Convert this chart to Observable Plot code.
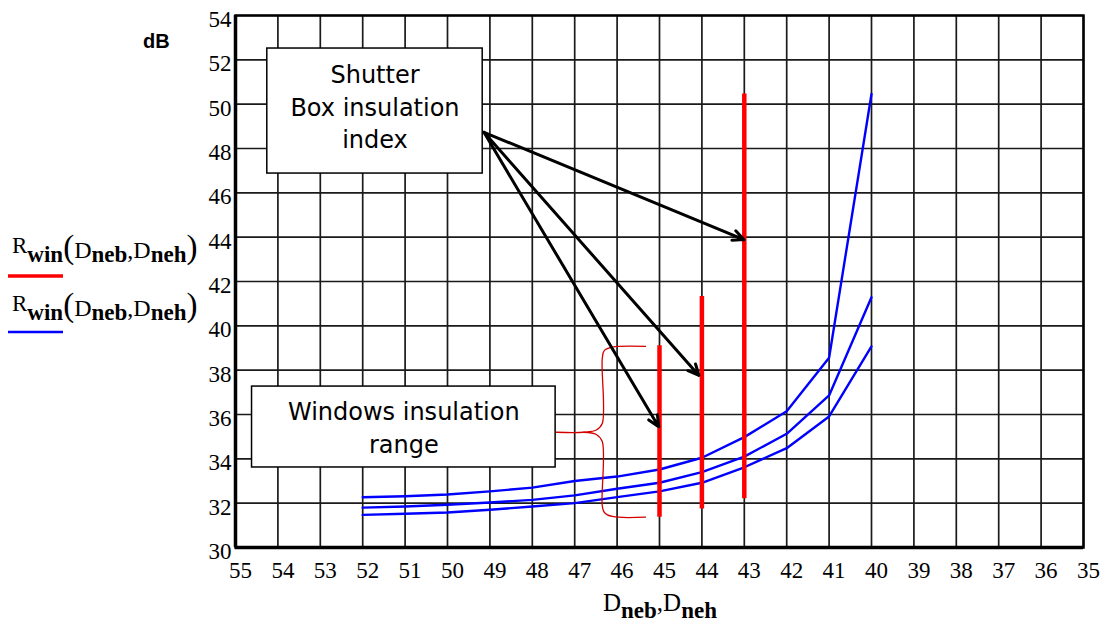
<!DOCTYPE html>
<html><head><meta charset="utf-8">
<script src="https://cdn.jsdelivr.net/npm/d3@7"></script>
<script src="https://cdn.jsdelivr.net/npm/@observablehq/plot@0.6"></script>
<style>
body{margin:0;background:#fff;}
#chart{position:relative;width:1107px;height:625px;}
</style>
</head><body><div id="chart"></div>
<script>
// ---- data ----
const xTicks = [55,54,53,52,51,50,49,48,47,46,45,44,43,42,41,40,39,38,37,36,35];
const yTicks = [30,32,34,36,38,40,42,44,46,48,50,52,54];

const Dneb = [52,51,50,49,48,47,46,45,44,43,42,41,40];
const rUpper  = [32.27,32.31,32.39,32.53,32.70,33.00,33.20,33.52,34.05,34.98,36.15,38.56,50.46];
const rMiddle = [31.80,31.85,31.93,32.03,32.15,32.35,32.65,32.92,33.40,34.10,35.13,36.86,41.29];
const rLower  = [31.47,31.52,31.58,31.70,31.85,32.00,32.27,32.53,32.92,33.62,34.48,35.91,39.07];

const shutterX    = [45,44,43];
const shutterLow  = [31.37,31.74,32.20];
const shutterHigh = [39.10,41.32,50.46];

const arrowFromX = 49.14, arrowFromY = 48.73;
const arrowToX = [43.01,44.07,45.02];
const arrowToY = [43.89,37.76,35.45];

const boxLabels = ["Shutter\nBox insulation\nindex", "Windows insulation\nrange"];
const boxX1 = [54.25,54.61], boxX2 = [49.17,47.45];
const boxY1 = [46.87,33.61], boxY2 = [52.51,37.26];
const boxTextX = [51.71,51.03], boxTextY = [49.95,35.49];

const braceUpperX = [47.43,46.79,46.49,46.35,46.35,46.30,46.11,45.33];
const braceUpperY = [35.20,35.20,35.30,35.59,38.52,38.89,39.04,39.07];
const braceLowerX = [46.79,46.49,46.35,46.35,46.30,46.11,45.33];
const braceLowerY = [35.20,35.10,34.78,31.89,31.58,31.40,31.37];

// ---- tables ----
const curves = [];
[["upper",rUpper],["middle",rMiddle],["lower",rLower]].forEach(([k,arr]) =>
  Dneb.forEach((d,i) => curves.push({series:k, d, r:arr[i]})));
const shutters = shutterX.map((x,i) => ({x, lo:shutterLow[i], hi:shutterHigh[i]}));
const arrows = arrowToX.map((x,i) => ({x1:arrowFromX, y1:arrowFromY, x2:x, y2:arrowToY[i]}));
const boxes = boxLabels.map((label,i) => ({label, x1:boxX1[i], x2:boxX2[i], y1:boxY1[i], y2:boxY2[i], tx:boxTextX[i], ty:boxTextY[i]}));
const brace = [
  ...braceUpperX.map((x,i) => ({part:"u", x, y:braceUpperY[i]})),
  ...braceLowerX.map((x,i) => ({part:"l", x, y:braceLowerY[i]}))
];

const gridStyle = {stroke:"#1a1a1a", strokeOpacity:1, strokeWidth:1.7};

const plot = Plot.plot({
  width:1107, height:625,
  marginLeft:235, marginRight:24, marginTop:15, marginBottom:78,
  style:{fontFamily:"'Liberation Serif', serif", fontSize:"23px", color:"#000", background:"#fff"},
  x:{domain:[55,35], label:null},
  y:{domain:[30,54], label:null},
  marks:[
    Plot.gridX(xTicks, gridStyle),
    Plot.gridY(yTicks, gridStyle),
    Plot.frame({stroke:"#000", strokeWidth:2.5}),
    Plot.ruleX([55], {stroke:"#000", strokeWidth:3.5}),
    Plot.ruleY([30], {stroke:"#000", strokeWidth:3.5}),
    Plot.line(curves, {x:"d", y:"r", z:"series", stroke:"#0000ff", strokeWidth:2.4}),
    Plot.ruleX(shutters, {x:"x", y1:"lo", y2:"hi", stroke:"#ff0000", strokeWidth:4.5}),
    Plot.line(brace, {x:"x", y:"y", z:"part", stroke:"#d40000", strokeWidth:1.3, curve:"catmull-rom"}),
    Plot.rect(boxes, {x1:"x1", x2:"x2", y1:"y1", y2:"y2", fill:"#fff", stroke:"#000", strokeWidth:1.5}),
    Plot.text(boxes, {x:"tx", y:"ty", text:"label", fontFamily:"'DejaVu Sans', sans-serif", fontSize:24, lineHeight:1.36, lineAnchor:"middle", fill:"#000"}),
    Plot.arrow(arrows, {x1:"x1", y1:"y1", x2:"x2", y2:"y2", stroke:"#000", strokeWidth:3, headLength:6, headAngle:50}),
    Plot.axisX(xTicks, {tickSize:0, tickPadding:14, dx:5, label:null, fontSize:23, fontFamily:"'Liberation Serif', serif"}),
    Plot.axisY(yTicks, {tickSize:0, tickPadding:4, dy:4, label:null, fontSize:23, fontFamily:"'Liberation Serif', serif"})
  ]
});
document.getElementById("chart").appendChild(plot);

// ---- legend, axis labels ----
const svg = d3.select(plot);
function rwin(x, y) {
  const t = svg.append("text").attr("x", x).attr("y", y).attr("text-anchor", "start")
    .attr("font-family", "'Liberation Serif', serif").attr("fill", "#000");
  t.append("tspan").style("font-size", "23px").attr("dy", -5).text("R");
  t.append("tspan").style("font-size", "23px").style("font-weight", "bold").attr("dy", 9).text("win");
  t.append("tspan").style("font-size", "33px").attr("dy", -4).text("(");
  t.append("tspan").style("font-size", "24px").text("D");
  t.append("tspan").style("font-size", "23px").style("font-weight", "bold").attr("dy", 4).text("neb");
  t.append("tspan").style("font-size", "24px").attr("dy", -4).text(",");
  t.append("tspan").style("font-size", "24px").text("D");
  t.append("tspan").style("font-size", "23px").style("font-weight", "bold").attr("dy", 4).text("neh");
  t.append("tspan").style("font-size", "33px").attr("dy", -4).text(")");
}
rwin(12, 258);
svg.append("line").attr("x1", 8).attr("x2", 63).attr("y1", 276).attr("y2", 276).attr("stroke", "#ff0000").attr("stroke-width", 3.5);
rwin(12, 316);
svg.append("line").attr("x1", 8).attr("x2", 63).attr("y1", 332).attr("y2", 332).attr("stroke", "#0000ff").attr("stroke-width", 2.5);

svg.append("text").attr("x", 143).attr("y", 48).attr("text-anchor", "start")
  .attr("font-family", "'Liberation Sans', Arial, sans-serif").attr("font-weight", "bold")
  .style("font-size", "20px").attr("fill", "#000").text("dB");

const xl = svg.append("text").attr("x", 603).attr("y", 611).attr("text-anchor", "start")
  .attr("font-family", "'Liberation Serif', serif").attr("fill", "#000");
xl.append("tspan").style("font-size", "25px").text("D");
xl.append("tspan").style("font-size", "23px").style("font-weight", "bold").attr("dy", 7).text("neb");
xl.append("tspan").style("font-size", "25px").attr("dy", -7).text(",");
xl.append("tspan").style("font-size", "25px").text("D");
xl.append("tspan").style("font-size", "23px").style("font-weight", "bold").attr("dy", 7).text("neh");
</script>
</body></html>
